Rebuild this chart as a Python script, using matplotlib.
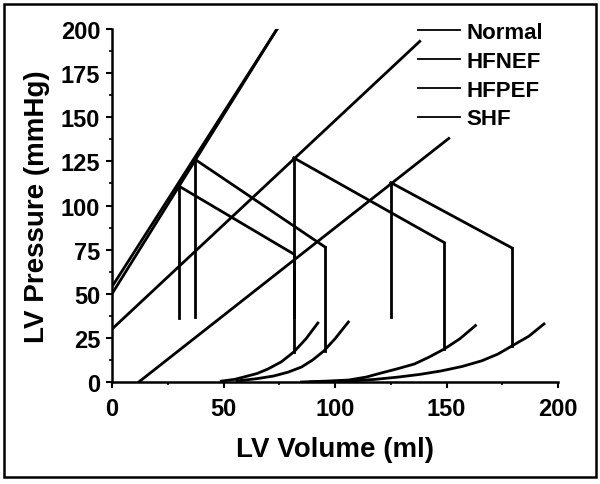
import numpy as np
import matplotlib
matplotlib.use("Agg")
import matplotlib.pyplot as plt
from matplotlib.patches import Rectangle
from matplotlib.ticker import MultipleLocator

plt.rcParams['font.family'] = ['Liberation Sans', 'DejaVu Sans']
plt.rcParams['font.weight'] = 'bold'

labels = ["Normal", "HFNEF", "HFPEF", "SHF"]

# end-systolic pressure-volume lines (volume, pressure)
espvr_v = [[0, 74], [0, 74], [0, 138], [12, 151]]
espvr_p = [[50, 200], [54, 200], [30, 193], [0, 138]]

# loop corners: end-systolic point, end of ejection, end-diastolic point
esv = [30, 37.4, 81.5, 125]
esp = [111, 126, 127, 113]
edv = [81.5, 95.5, 149, 179.3]
ejp = [72.5, 76.5, 79, 76]
edp = [17, 17.6, 18.7, 20.4]
esv_low = [36, 37, 37, 37]

# end-diastolic pressure-volume curves
edpvr_v = [
    [49, 55, 59, 65, 70, 76, 81.5, 87, 92.3],
    [56, 65, 72.5, 79, 85, 90, 95, 100, 106],
    [85, 96, 106, 114, 120.7, 128, 135.6, 142, 149, 156, 163],
    [89, 98, 107, 118, 128.4, 138, 147.7, 157, 165.8, 173, 179.3, 187, 193.7],
]
edpvr_p = [
    [0.5, 1.5, 2.8, 4.8, 7.4, 11.5, 17, 24.5, 33.4],
    [0.6, 1.9, 3.4, 5.6, 8.5, 12.5, 17.6, 24.5, 34],
    [0, 0.5, 1.1, 2.8, 5.1, 7.5, 10.2, 14, 18.7, 24.5, 32],
    [0, 0.3, 0.6, 1.5, 2.8, 4.3, 6.3, 8.8, 12, 15.8, 20.4, 26, 32.9],
]

fig = plt.figure(figsize=(6, 4.85), dpi=100)
ax = fig.add_axes([0.1867, 0.2103, 0.7433, 0.7278])

lw = 2.0
for i in range(4):
    ax.plot(espvr_v[i], espvr_p[i], color='black', lw=lw)
    ax.plot([esv[i], edv[i]], [esp[i], ejp[i]], color='black', lw=lw)
    ax.plot([edv[i], edv[i]], [ejp[i], edp[i]], color='black', lw=lw)
    ax.plot([esv[i], esv[i]], [esp[i], esv_low[i]], color='black', lw=lw)
    ax.plot(edpvr_v[i], edpvr_p[i], color='black', lw=lw)

# legend handles
for lab in labels:
    ax.plot([], [], color='black', lw=1.3, label=lab)
ax.legend(loc='upper left', bbox_to_anchor=(0.685, 1.02), frameon=False,
          borderaxespad=0, borderpad=0, handlelength=1.9, handletextpad=0.3,
          labelspacing=0.35, prop={'weight': 'bold', 'size': 16})

ax.set_xlim(0, 200)
ax.set_ylim(0, 200)
ax.xaxis.set_major_locator(MultipleLocator(50))
ax.xaxis.set_minor_locator(MultipleLocator(25))
ax.yaxis.set_major_locator(MultipleLocator(25))
ax.yaxis.set_minor_locator(MultipleLocator(12.5))
for s in ['top', 'right']:
    ax.spines[s].set_visible(False)
for s in ['left', 'bottom']:
    ax.spines[s].set_linewidth(1.8)
ax.tick_params(which='major', direction='out', length=4.5, width=1.5, labelsize=17, pad=4)
ax.tick_params(which='minor', direction='out', length=2.5, width=1.2)
ax.tick_params(axis='x', pad=6)
for t in ax.get_xticklabels() + ax.get_yticklabels():
    t.set_fontweight('bold')

ax.set_xlabel("LV Volume (ml)", fontsize=20, fontweight='bold', labelpad=12)
ax.set_ylabel("LV Pressure (mmHg)", fontsize=20, fontweight='bold', labelpad=8)

fig.patches.append(Rectangle((0.0067, 0.0144), 0.9866, 0.9753, transform=fig.transFigure,
                             fill=False, edgecolor='black', lw=1.8))

fig.savefig("out.png", dpi=100)
